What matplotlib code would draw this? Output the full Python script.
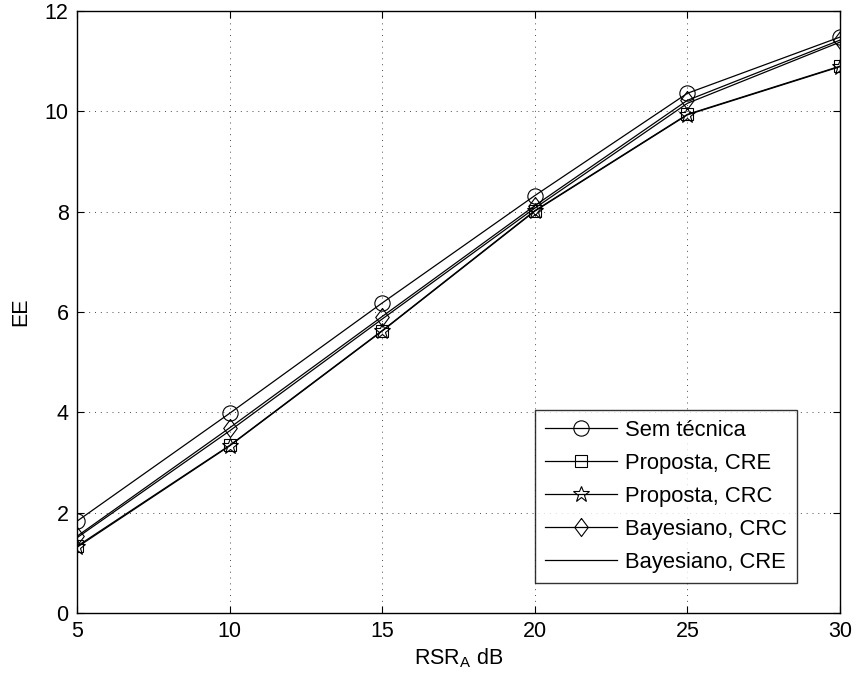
import matplotlib
matplotlib.use("Agg")
import matplotlib.pyplot as plt

plt.rcParams['font.family'] = ['Liberation Sans', 'DejaVu Sans']
plt.rcParams['mathtext.fontset'] = 'custom'
plt.rcParams['mathtext.rm'] = 'Liberation Sans'
plt.rcParams['mathtext.it'] = 'Liberation Sans'

x = [5, 10, 15, 20, 25, 30]
sem_tecnica = [1.83, 3.98, 6.18, 8.32, 10.36, 11.48]
proposta_cre = [1.33, 3.34, 5.63, 8.02, 9.94, 10.90]
proposta_crc = [1.31, 3.33, 5.62, 8.01, 9.93, 10.89]
bayes_crc = [1.53, 3.69, 5.91, 8.12, 10.22, 11.42]
bayes_cre = [1.50, 3.63, 5.86, 8.07, 10.16, 11.38]

labels = ['Sem técnica', 'Proposta, CRE', 'Proposta, CRC', 'Bayesiano, CRC', 'Bayesiano, CRE']
xticks = [5, 10, 15, 20, 25, 30]
yticks = [0, 2, 4, 6, 8, 10, 12]

diamond = [(0, 1), (0.75, 0), (0, -1), (-0.75, 0), (0, 1)]

fig = plt.figure(figsize=(8.56, 6.86), dpi=100)
ax = fig.add_axes([77/856, 1 - 613/686, (840-77)/856, (613-11)/686])

common = dict(color='black', lw=0.9, mfc='none', mec='black', mew=0.8)
ax.plot(x, sem_tecnica, marker='o', ms=11, label=labels[0], **common)
ax.plot(x, proposta_cre, marker='s', ms=9, label=labels[1], **common)
ax.plot(x, proposta_crc, marker='*', ms=12, label=labels[2], **common)
ax.plot(x, bayes_crc, marker=diamond, ms=13, label=labels[3], **common)
ax.plot(x, bayes_cre, label=labels[4], color='black', lw=0.9)

ax.set_xlim(5, 30)
ax.set_ylim(0, 12)
ax.set_xticks(xticks)
ax.set_yticks(yticks)
ax.tick_params(direction='in', length=5, width=0.8, labelsize=15.5, top=True, right=True, pad=6)
ax.grid(True, linestyle=(0, (1, 5)), color='black', lw=0.7, alpha=0.7)
for s in ax.spines.values():
    s.set_linewidth(1.0)

ax.set_xlabel(r'RSR$_{\mathrm{A}}$ dB', fontsize=15.5, labelpad=3)
ax.set_ylabel('EE', fontsize=15.5, labelpad=10)

leg = ax.legend(loc='lower right', bbox_to_anchor=((797-77)/763, (613-583)/602),
                fontsize=15.8, frameon=True, fancybox=False, edgecolor='black',
                handlelength=3.3, handletextpad=0.35, borderpad=0.45, labelspacing=0.55,
                borderaxespad=0)
leg.get_frame().set_linewidth(1.0)

fig.savefig('out.png', dpi=100)
